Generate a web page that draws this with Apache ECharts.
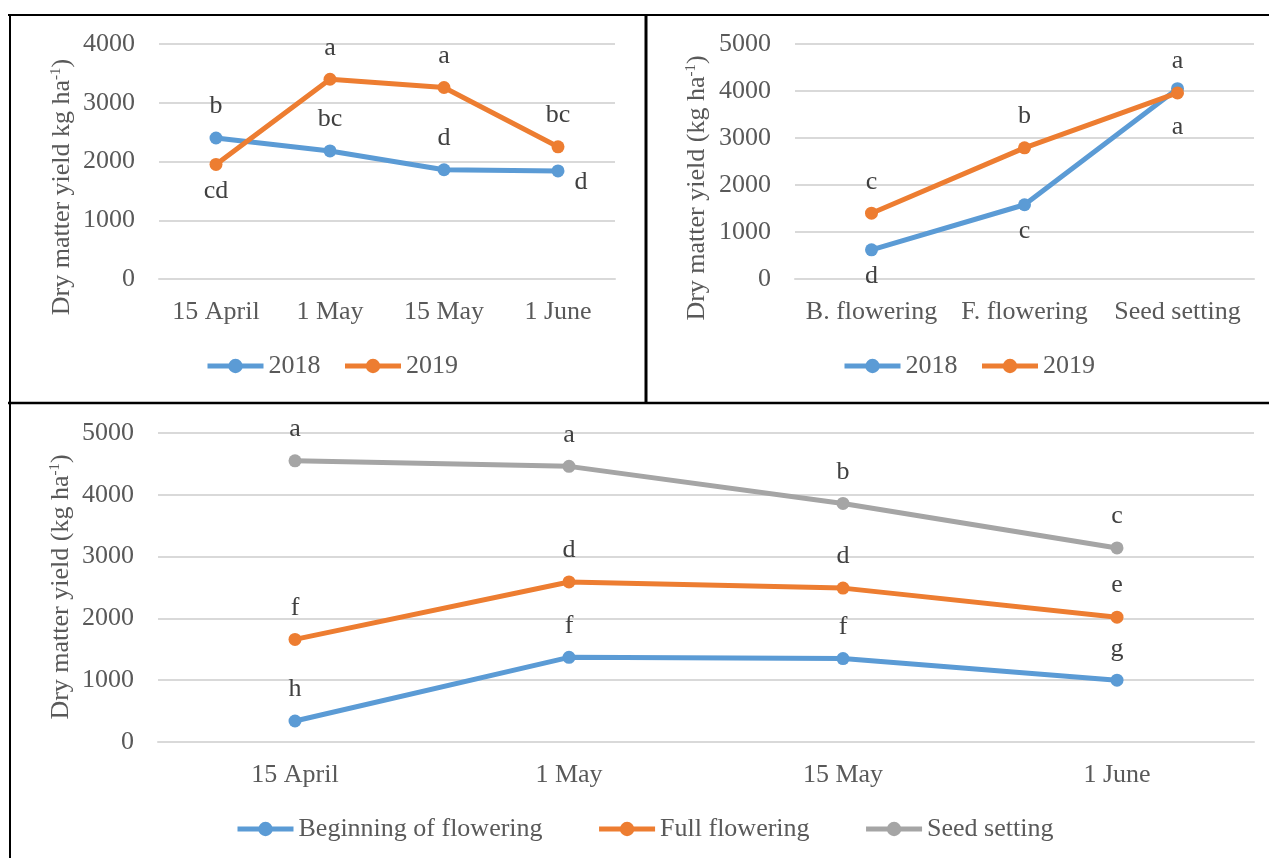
<!DOCTYPE html>
<html>
<head>
<meta charset="utf-8">
<script src="https://cdn.jsdelivr.net/npm/echarts@6/dist/echarts.min.js"></script>
<style>
html,body{margin:0;padding:0;background:#fff;}
#chart{width:1269px;height:858px;}
</style>
</head>
<body>
<div id="chart"></div>
<script>
// ---- data ----
const dates = ['15 April', '1 May', '15 May', '1 June'];
const stages = ['B. flowering', 'F. flowering', 'Seed setting'];
const yearNames = ['2018', '2019'];
const stageNames = ['Beginning of flowering', 'Full flowering', 'Seed setting'];

const dateYield2018 = [2400, 2180, 1860, 1840];
const dateYield2019 = [1950, 3400, 3260, 2250];
const dateLetters2018 = ['b', 'bc', 'd', 'd'];
const dateLetters2019 = ['cd', 'a', 'a', 'bc'];

const stageYield2018 = [620, 1580, 4050];
const stageYield2019 = [1400, 2790, 3960];
const stageLetters2018 = ['d', 'c', 'a'];
const stageLetters2019 = ['c', 'b', 'a'];

const beginFlowering = [340, 1370, 1350, 1000];
const fullFlowering = [1660, 2590, 2490, 2020];
const seedSetting = [4550, 4460, 3860, 3140];
const beginLetters = ['h', 'f', 'f', 'g'];
const fullLetters = ['f', 'd', 'd', 'e'];
const seedLetters = ['a', 'a', 'b', 'c'];

const yTicks1 = {min: 0, max: 4000, interval: 1000};
const yTicks2 = {min: 0, max: 5000, interval: 1000};
const yTicks3 = {min: 0, max: 5000, interval: 1000};

// ---- styling ----
const FONT = "'Liberation Serif', 'Times New Roman', serif";
const TXT = '#595959';
const LBL = '#404040';
const BLUE = '#5b9bd5', ORANGE = '#ed7d31', GRAY = '#a5a5a5';
const FS = 26;

// label placement helpers
const TOP = {position: 'top', distance: 12};
const BOT = {position: 'bottom', distance: 7};
const RIGHT = {position: 'right', distance: 10, offset: [0, 11]};
const BOT_FAR = {position: 'bottom', distance: 19};

function items(values, places) {
  return values.map((v, i) => ({value: v, label: Object.assign({}, places[i])}));
}

function lineSeries(name, values, letters, places, color, idx) {
  return {
    name: name,
    type: 'line',
    xAxisIndex: idx,
    yAxisIndex: idx,
    data: items(values, places),
    symbol: 'circle',
    symbolSize: 13,
    lineStyle: {color: color, width: 5},
    itemStyle: {color: color},
    label: {
      show: true,
      formatter: p => letters[p.dataIndex],
      fontFamily: FONT,
      fontSize: FS,
      color: LBL
    },
    emphasis: {disabled: true},
    animation: false
  };
}

function catAxis(cats, idx) {
  return {
    type: 'category', gridIndex: idx, data: cats, boundaryGap: true,
    axisLine: {show: true, lineStyle: {color: '#d9d9d9', width: 2}},
    axisTick: {show: false},
    axisLabel: {fontFamily: FONT, fontSize: FS, color: TXT, margin: 20, interval: 0}
  };
}
function valAxis(t, idx) {
  return {
    type: 'value', gridIndex: idx, min: t.min, max: t.max, interval: t.interval,
    axisLine: {show: false}, axisTick: {show: false},
    splitLine: {lineStyle: {color: '#d9d9d9', width: 2}},
    axisLabel: {fontFamily: FONT, fontSize: FS, color: TXT, margin: 24, formatter: v => String(v)}
  };
}
function legend(names, left, top, gap) {
  return {
    data: names, left: left, top: top, orient: 'horizontal',
    itemWidth: 56, itemHeight: 18, itemGap: gap, padding: 0,
    lineStyle: {width: 5},
    textStyle: {fontFamily: FONT, fontSize: FS, color: TXT},
    selectedMode: false
  };
}
function yName(x, y, parenOpen) {
  const main = parenOpen ? 'Dry matter yield (kg ha' : 'Dry matter yield kg ha';
  return {
    type: 'text', x: x, y: y, rotation: Math.PI / 2,
    style: {
      text: '{n|' + main + '}{s|-1}{n|)}',
      align: 'center', verticalAlign: 'middle',
      rich: {
        n: {fontFamily: FONT, fontSize: FS, fill: TXT, lineHeight: 30},
        s: {fontFamily: FONT, fontSize: 15, fill: TXT, verticalAlign: 'top', lineHeight: 30, padding: [2, 0, 6, 0]}
      }
    },
    silent: true
  };
}
function hline(x1, x2, y, w) {
  return {type: 'line', shape: {x1: x1, y1: y, x2: x2, y2: y}, style: {stroke: '#000', lineWidth: w}, silent: true, z: 100};
}
function vline(x, y1, y2, w) {
  return {type: 'line', shape: {x1: x, y1: y1, x2: x, y2: y2}, style: {stroke: '#000', lineWidth: w}, silent: true, z: 100};
}

const chart = echarts.init(document.getElementById('chart'), null, {renderer: 'canvas'});
const option = {
  backgroundColor: '#fff',
  animation: false,
  grid: [
    {left: 159, width: 456, top: 44, height: 235},
    {left: 795, width: 459, top: 44, height: 235},
    {left: 158, width: 1096, top: 433, height: 309}
  ],
  xAxis: [catAxis(dates, 0), catAxis(stages, 1), catAxis(dates, 2)],
  yAxis: [valAxis(yTicks1, 0), valAxis(yTicks2, 1), valAxis(yTicks3, 2)],
  legend: [
    legend(yearNames, 205, 353, 22),
    legend(yearNames, 842, 353, 22),
    legend(stageNames, 235, 816, 54)
  ],
  series: [
    lineSeries('2018', dateYield2018, dateLetters2018, [TOP, TOP, TOP, RIGHT], BLUE, 0),
    lineSeries('2019', dateYield2019, dateLetters2019, [BOT, TOP, TOP, TOP], ORANGE, 0),
    lineSeries('2018', stageYield2018, stageLetters2018, [BOT, BOT, BOT_FAR], BLUE, 1),
    lineSeries('2019', stageYield2019, stageLetters2019, [TOP, TOP, TOP], ORANGE, 1),
    lineSeries(stageNames[0], beginFlowering, beginLetters, [TOP, TOP, TOP, TOP], BLUE, 2),
    lineSeries(stageNames[1], fullFlowering, fullLetters, [TOP, TOP, TOP, TOP], ORANGE, 2),
    lineSeries(stageNames[2], seedSetting, seedLetters, [TOP, TOP, TOP, TOP], GRAY, 2)
  ],
  graphic: [
    yName(62, 187, false),
    yName(697, 188, true),
    yName(61, 587, true),
    hline(8, 1269, 15, 2),
    vline(10, 14, 858, 2),
    vline(646, 15, 403, 3),
    hline(8, 1269, 403, 2.5)
  ]
};
chart.setOption(option);
</script>
</body>
</html>
